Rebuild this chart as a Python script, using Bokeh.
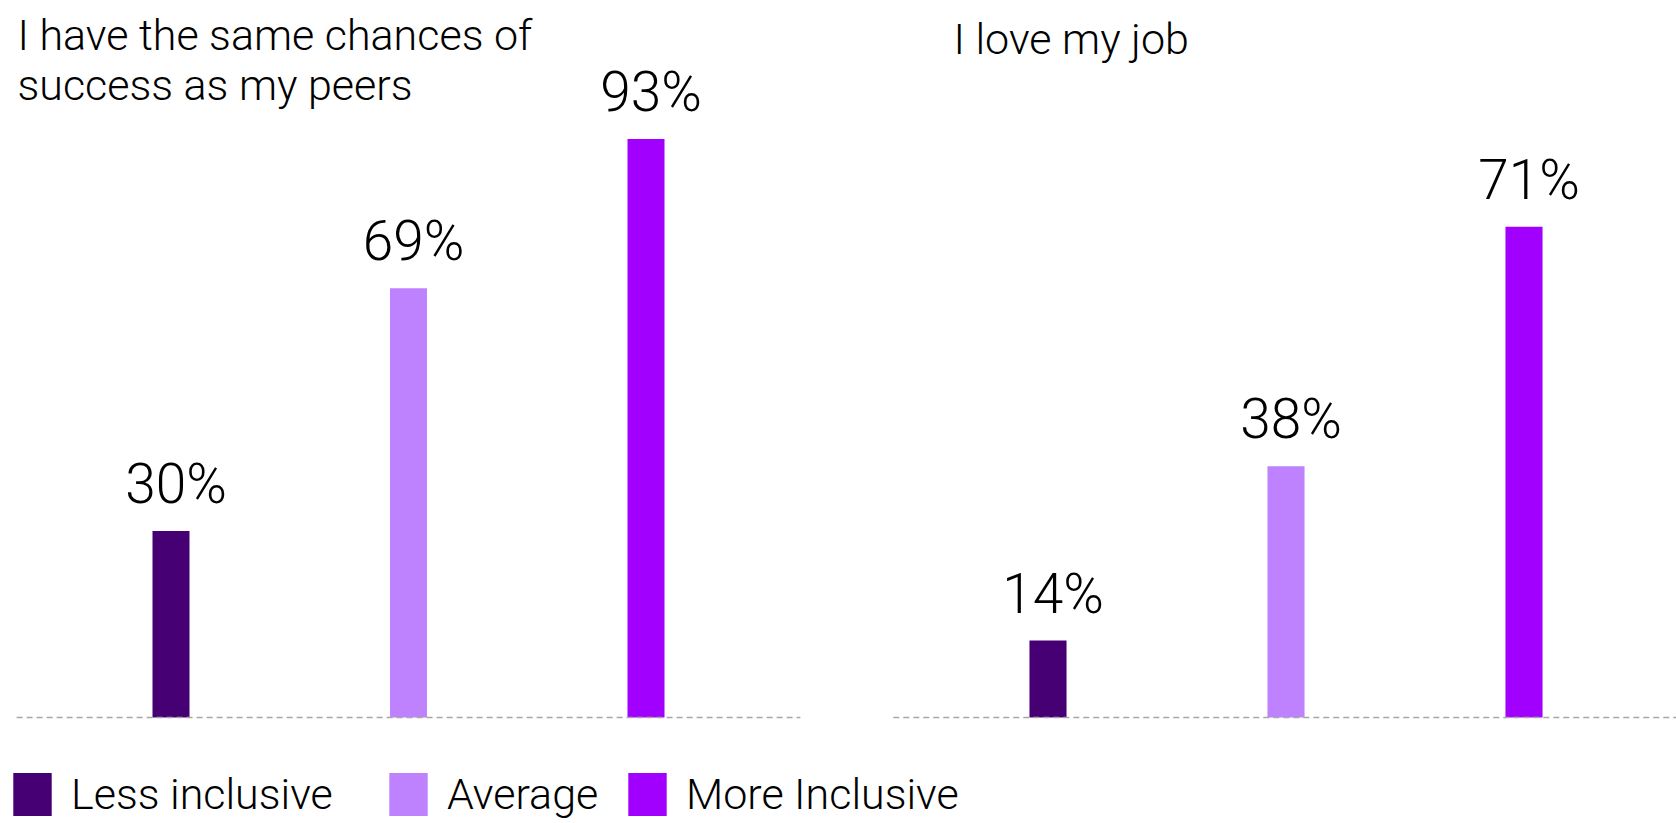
from bokeh.plotting import figure
from bokeh.models import Range1d, ColumnDataSource, Label, Legend, LegendItem
from bokeh.core.properties import value
from bokeh.embed import file_html
from bokeh.resources import INLINE

# ---- data ----
groups = ["Less inclusive", "Average", "More Inclusive"]
colors = ["#460073", "#BE82FF", "#A100FF"]
positions = [1, 2, 3]
left_title = ["I have the same chances of", "success as my peers"]
left_values = [30, 69, 93]
right_title = ["I love my job"]
right_values = [14, 38, 71]
right_axis_start = 3.4  # right panel's value axis does not start at zero

FONT = "Roboto Light"
W, H = 1676, 823

p = figure(width=W, height=H, output_backend="svg", toolbar_location=None,
           title=None, x_axis_location=None, y_axis_location=None,
           x_range=Range1d(0.28211, 7.33895), y_range=Range1d(-17.04, 115.27),
           min_border=0, outline_line_color=None, background_fill_color="white")
p.xgrid.visible = False
p.ygrid.visible = False
p.extra_x_ranges = {"rx": Range1d(-3.40126, 3.64076)}
p.extra_y_ranges = {"ry": Range1d(-11.2, 102.16)}

BAR_W = 0.1558
PAD = 0.65


def panel(values, base, xr, yr):
    src = ColumnDataSource(dict(
        x=positions, top=values, color=colors,
        label=[f"{v}%" for v in values]))
    r = p.vbar(x="x", top="top", bottom=base, width=BAR_W, fill_color="color",
               line_color=None, source=src, x_range_name=xr, y_range_name=yr)
    p.text(x="x", y="top", text="label", source=src, x_range_name=xr, y_range_name=yr,
           text_align="center", text_baseline="alphabetic", x_offset=5, y_offset=-47,
           text_font=value(FONT), text_font_size="55px", text_color="#000000")
    p.line(x=[positions[0] - PAD, positions[-1] + PAD], y=[base, base],
           x_range_name=xr, y_range_name=yr,
           line_color="#A6A6A6", line_width=1.5, line_dash="6 4")
    return r


r_left = panel(left_values, 0, "default", "default")
r_right = panel(right_values, right_axis_start, "rx", "ry")

# ---- titles ----
for i, line in enumerate(left_title):
    p.add_layout(Label(x=17, y=H - 34 - 50 * i, x_units="screen", y_units="screen",
                       text=line, text_font=FONT, text_font_size="43px",
                       text_color="#000000", text_baseline="alphabetic"))
for i, line in enumerate(right_title):
    p.add_layout(Label(x=953, y=H - 38 - 50 * i, x_units="screen", y_units="screen",
                       text=line, text_font=FONT, text_font_size="43px",
                       text_color="#000000", text_baseline="alphabetic"))

# ---- legend ----
legend_x = [8, 384, 623]
for i, g in enumerate(groups):
    leg = Legend(items=[LegendItem(label=g, renderers=[r_left], index=i)],
                 location=(legend_x[i], 2), orientation="horizontal",
                 glyph_width=48, glyph_height=54, label_standoff=15,
                 label_text_font=FONT, label_text_font_size="43px",
                 label_text_color="#000000", padding=0, margin=0, spacing=0,
                 border_line_color=None, background_fill_alpha=0)
    p.add_layout(leg)

open("out.html", "w").write(file_html(p, INLINE))
